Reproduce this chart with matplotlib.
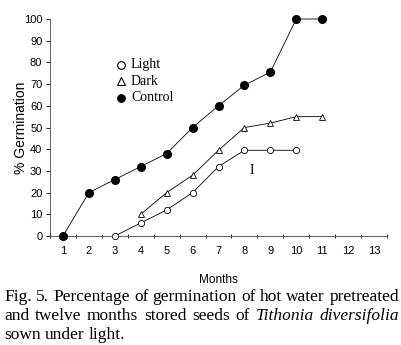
import matplotlib
matplotlib.use("Agg")
import matplotlib.pyplot as plt

months = [1, 2, 3, 4, 5, 6, 7, 8, 9, 10, 11]
control = [0, 20, 26, 32, 38, 50, 60, 69.5, 75.5, 100, 100]
dark_months = [4, 5, 6, 7, 8, 9, 10, 11]
dark = [10, 20, 28, 39.5, 50, 52, 55, 55]
light_months = [3, 4, 5, 6, 7, 8, 9, 10]
light = [0, 6, 12, 20, 32, 39.5, 39.5, 39.5]

month_ticks = list(range(1, 14))
pct_ticks = list(range(0, 101, 10))

caption = [
    [("Fig.", "normal"), ("5.", "normal"), ("Percentage", "normal"), ("of", "normal"),
     ("germination", "normal"), ("of", "normal"), ("hot", "normal"), ("water", "normal"),
     ("pretreated", "normal")],
    [("and", "normal"), ("twelve", "normal"), ("months", "normal"), ("stored", "normal"),
     ("seeds", "normal"), ("of", "normal"), ("Tithonia", "italic"), ("diversifolia", "italic")],
    [("sown", "normal"), ("under", "normal"), ("light.", "normal")],
]

sans = "Liberation Sans"
serif = "Liberation Serif"

fig = plt.figure(figsize=(4.01, 3.45), dpi=100)
ax = fig.add_axes([50 / 401, 1 - 236 / 345, 337 / 401, 217 / 345])

ax.plot(months, control, color="black", lw=0.6, marker="o", ms=5.5,
        mfc="black", mec="black", clip_on=False, zorder=3)
ax.plot(dark_months, dark, color="black", lw=0.6, marker="^", ms=4.5,
        mfc="white", mec="black", mew=0.6, clip_on=False, zorder=3)
ax.plot(light_months, light, color="black", lw=0.6, marker="o", ms=4.5,
        mfc="white", mec="black", mew=0.6, clip_on=False, zorder=3)

ax.set_xlim(0.5, 13.5)
ax.set_ylim(0, 100)
ax.set_xticks(month_ticks)
ax.set_xticklabels([str(m) for m in month_ticks], fontsize=8, family=sans)
ax.set_xticks([m - 0.5 for m in month_ticks] + [13.5], minor=True)
ax.tick_params(axis="x", which="major", length=0, pad=7)
ax.tick_params(axis="x", which="minor", length=3, width=0.6, direction="inout")
ax.set_yticks(pct_ticks)
ax.set_yticklabels([str(p) for p in pct_ticks], fontsize=8, family=sans)
ax.tick_params(axis="y", length=3, width=0.6, direction="out", pad=2.5)

for side in ["top", "right"]:
    ax.spines[side].set_visible(False)
for side in ["left", "bottom"]:
    ax.spines[side].set_linewidth(0.6)
    ax.spines[side].set_color("#444444")

ax.set_xlabel("Months", fontsize=8.5, family=sans)
ax.xaxis.set_label_coords(0.5, -0.175)
ax.set_ylabel("% Germination", fontsize=10, family=sans)
ax.yaxis.set_label_coords(-0.065, 0.5)

# legend drawn as plain marker + serif text, no frame
leg_items = [("o", "white", "Light"), ("^", "white", "Dark"), ("o", "black", "Control")]
for i, (mk, fc, lab) in enumerate(leg_items):
    yy = 0.79 - i * 0.077
    ax.plot([0.211], [yy], transform=ax.transAxes, marker=mk, ms=5.5, mfc=fc,
            mec="black", mew=0.8, ls="none", clip_on=False)
    ax.text(0.24, yy, lab, transform=ax.transAxes, fontsize=10,
            family=serif, va="center")

# LSD bar
ax.text(8.3, 30, "I", fontsize=10, family=serif, ha="center", va="center")

# justified caption
renderer = fig.canvas.get_renderer()
x0, x1 = 4 / 401, 399 / 401
line_y = [297, 316, 335]
cap_size = 12.5
sp = fig.text(0, 0, "a a", fontsize=cap_size, family=serif)
sa = fig.text(0, 0, "aa", fontsize=cap_size, family=serif)
space = (sp.get_window_extent(renderer).width - sa.get_window_extent(renderer).width) / fig.bbox.width
sp.remove()
sa.remove()
for li, words in enumerate(caption):
    texts = []
    for w, st in words:
        t = fig.text(0, 1 - line_y[li] / 345, w, fontsize=cap_size, family=serif,
                     style=st, va="center")
        texts.append(t)
    widths = [t.get_window_extent(renderer).width / fig.bbox.width for t in texts]
    if li < len(caption) - 1:
        gap = (x1 - x0 - sum(widths)) / (len(texts) - 1)
    else:
        gap = space
    x = x0
    for t, wd in zip(texts, widths):
        t.set_x(x)
        x += wd + gap

fig.savefig("out.png", dpi=100)
